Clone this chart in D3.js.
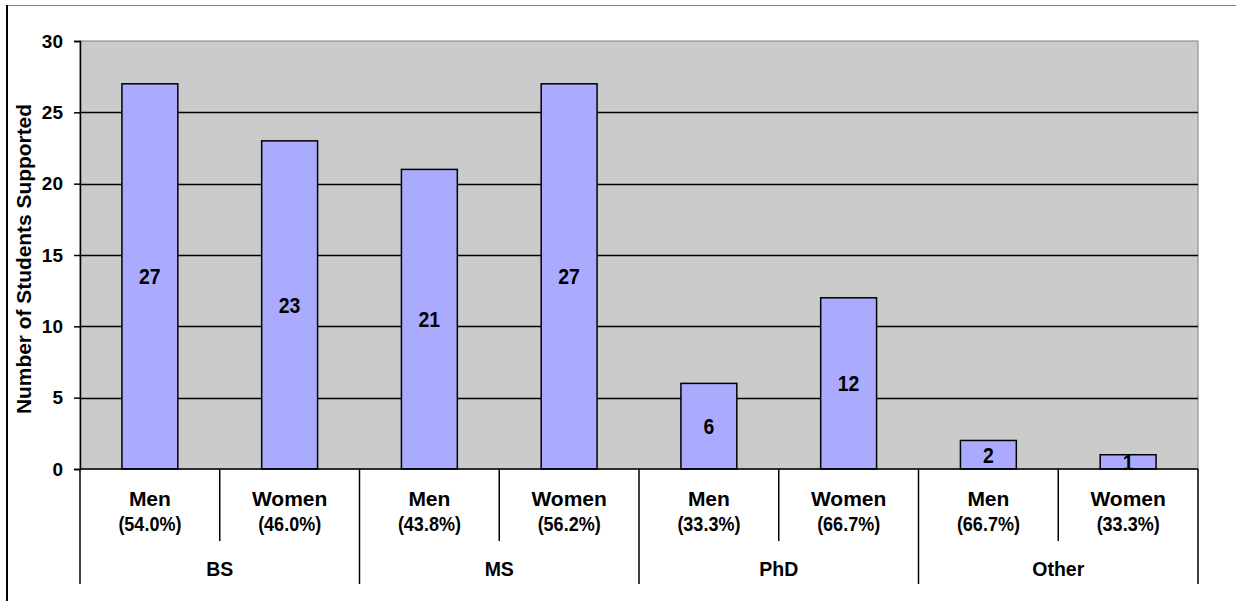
<!DOCTYPE html>
<html lang="en">
<head>
  <meta charset="UTF-8">
  <title>Students Supported</title>
  <style>
    body { margin: 0; background: #fff; }
    text { font-family: "Liberation Sans", Arial, sans-serif; font-weight: bold; fill: #000; }
  </style>
</head>
<body>
  <script src="https://d3js.org/d3.v7.min.js"></script>
  <div id="chart"></div>
  <script>
    // data
    var degrees = ["BS", "MS", "PhD", "Other"];
    var genders = ["Men", "Women"];
    var counts = [27, 23, 21, 27, 6, 12, 2, 1];
    var shares = ["(54.0%)", "(46.0%)", "(43.8%)", "(56.2%)", "(33.3%)", "(66.7%)", "(66.7%)", "(33.3%)"];
    var yTicks = [0, 5, 10, 15, 20, 25, 30];

    var W = 1236, H = 601;
    var plotL = 80, plotR = 1198, plotT = 41, plotB = 469;

    var svg = d3.select("#chart").append("svg")
      .attr("width", W).attr("height", H);

    // chart frame (cropped on right / bottom)
    svg.append("line").attr("x1", 6).attr("x2", W).attr("y1", 5.5).attr("y2", 5.5)
      .attr("stroke", "#808080").attr("stroke-width", 1);
    svg.append("line").attr("x1", 7).attr("x2", 7).attr("y1", 5).attr("y2", H)
      .attr("stroke", "#000").attr("stroke-width", 2);

    var cells = [];
    degrees.forEach(function (d, i) {
      genders.forEach(function (g, j) {
        var k = i * genders.length + j;
        cells.push({ key: k, degree: d, gender: g, value: counts[k], share: shares[k] });
      });
    });

    var x = d3.scaleBand().domain(cells.map(function (c) { return c.key; }))
      .range([plotL, plotR]).padding(0);
    var xg = d3.scaleBand().domain(degrees).range([plotL, plotR]).padding(0);
    var y = d3.scaleLinear().domain([0, 30]).range([plotB, plotT]);

    // plot background
    svg.append("rect").attr("x", plotL).attr("y", plotT)
      .attr("width", plotR - plotL).attr("height", plotB - plotT)
      .attr("fill", "#cbcbcb").attr("stroke", "#808080").attr("stroke-width", 1);

    // gridlines
    svg.append("g").selectAll("line").data(yTicks.filter(function (t) { return t > 0 && t < 30; }))
      .enter().append("line")
      .attr("x1", plotL).attr("x2", plotR)
      .attr("y1", function (d) { return Math.round(y(d)) + 0.5; })
      .attr("y2", function (d) { return Math.round(y(d)) + 0.5; })
      .attr("stroke", "#000").attr("stroke-width", 1.3);

    // bars
    var bw = x.bandwidth() * 0.4;
    svg.append("g").selectAll("rect").data(cells).enter().append("rect")
      .attr("x", function (d) { return x(d.key) + (x.bandwidth() - bw) / 2; })
      .attr("y", function (d) { return y(d.value); })
      .attr("width", bw)
      .attr("height", function (d) { return y(0) - y(d.value); })
      .attr("fill", "#aaaaff").attr("stroke", "#000").attr("stroke-width", 1.5);

    // value labels (tall, narrow digits as in the original)
    svg.append("g").selectAll("text").data(cells).enter().append("text")
      .attr("x", function (d) { return x(d.key) + x.bandwidth() / 2; })
      .attr("y", function (d) { return (y(d.value) + y(0)) / 2; })
      .attr("dy", "0.36em")
      .attr("text-anchor", "middle")
      .attr("textLength", function (d) { return String(d.value).length * 10.8; })
      .attr("lengthAdjust", "spacingAndGlyphs")
      .style("font-size", "22px")
      .text(function (d) { return d.value; });

    // y axis
    var yAxis = svg.append("g").attr("transform", "translate(" + plotL + ",0)")
      .call(d3.axisLeft(y).tickValues(yTicks).tickSize(6).tickPadding(11));
    yAxis.select(".domain").attr("stroke", "#000").attr("stroke-width", 1.5);
    yAxis.selectAll(".tick line").attr("stroke", "#000").attr("stroke-width", 1.5);
    yAxis.selectAll(".tick text").style("font-size", "19px")
      .style("font-family", "'Liberation Sans', Arial, sans-serif").style("font-weight", "bold");

    svg.append("text")
      .attr("transform", "translate(31,259) rotate(-90)")
      .attr("text-anchor", "middle")
      .attr("textLength", 310)
      .attr("lengthAdjust", "spacingAndGlyphs")
      .style("font-size", "20px")
      .text("Number of Students Supported");

    // category axis (two levels)
    svg.append("line").attr("x1", plotL).attr("x2", plotR)
      .attr("y1", plotB).attr("y2", plotB)
      .attr("stroke", "#000").attr("stroke-width", 1.5);

    // inner dividers between Men / Women
    svg.append("g").selectAll("line").data(cells.filter(function (c) { return c.key % 2 === 1; }))
      .enter().append("line")
      .attr("x1", function (d) { return x(d.key); })
      .attr("x2", function (d) { return x(d.key); })
      .attr("y1", plotB).attr("y2", 541)
      .attr("stroke", "#000").attr("stroke-width", 1.5);

    // group dividers
    var gEdges = degrees.map(function (d) { return xg(d); }).concat([plotR]);
    svg.append("g").selectAll("line").data(gEdges).enter().append("line")
      .attr("x1", function (d) { return d; }).attr("x2", function (d) { return d; })
      .attr("y1", plotB).attr("y2", 584)
      .attr("stroke", "#000").attr("stroke-width", 1.5);

    var lab = svg.append("g").selectAll("g").data(cells).enter().append("g");
    lab.append("text")
      .attr("x", function (d) { return x(d.key) + x.bandwidth() / 2; })
      .attr("y", 506)
      .attr("text-anchor", "middle")
      .style("font-size", "21px")
      .text(function (d) { return d.gender; });
    lab.append("text")
      .attr("x", function (d) { return x(d.key) + x.bandwidth() / 2; })
      .attr("y", 531)
      .attr("text-anchor", "middle")
      .attr("textLength", 63)
      .attr("lengthAdjust", "spacingAndGlyphs")
      .style("font-size", "21px")
      .text(function (d) { return d.share; });

    svg.append("g").selectAll("text").data(degrees).enter().append("text")
      .attr("x", function (d) { return xg(d) + xg.bandwidth() / 2; })
      .attr("y", 576)
      .attr("text-anchor", "middle")
      .style("font-size", "19.5px")
      .text(function (d) { return d; });
  </script>
</body>
</html>
